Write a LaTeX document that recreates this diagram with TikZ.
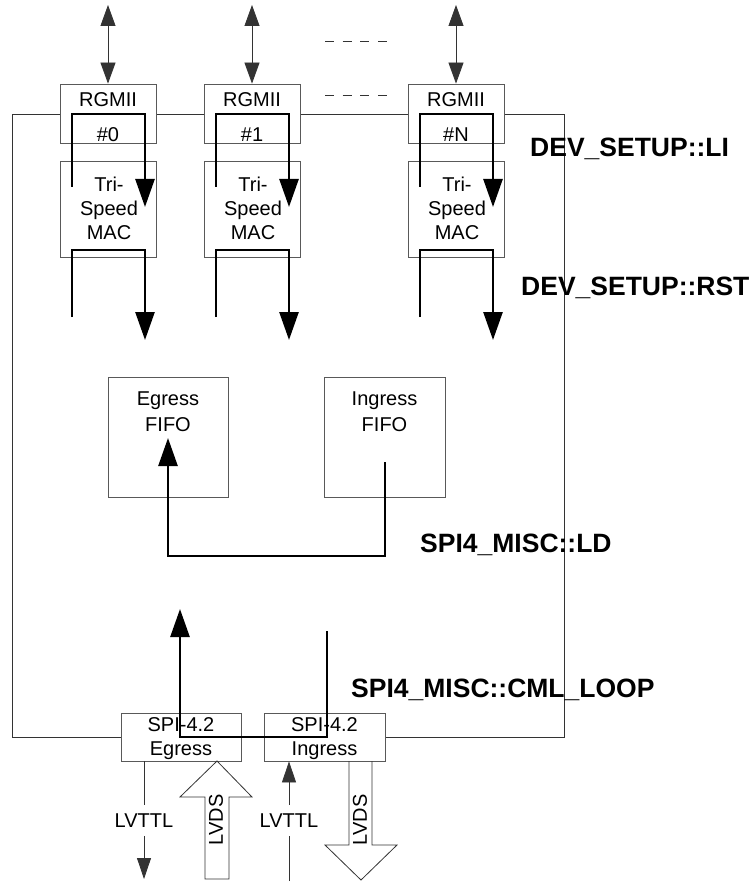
\documentclass[tikz,border=0pt]{standalone}
\usepackage{fontspec}
\setmainfont{Liberation Sans}
\usetikzlibrary{arrows.meta,calc}
\begin{document}
\begin{tikzpicture}[x=1pt,y=-1pt,
  box/.style={draw=black!65, line width=0.8pt, fill=white, inner sep=0pt},
  txt/.style={inner sep=0pt, font=\fontsize{20}{24}\selectfont, anchor=base},
  lvtxt/.style={inner xsep=0pt, inner ysep=8.3pt, font=\fontsize{20}{24}\selectfont},
  rtxt/.style={inner sep=0pt, font=\fontsize{20}{24}\selectfont, rotate=90},
  lbl/.style={inner sep=0pt, font=\fontsize{26.5}{30}\selectfont\bfseries, anchor=base west},
  thn/.style={draw=black!80, line width=0.8pt},
  thk/.style={draw=black, line width=2.6pt},
  bigtip/.style={-{Triangle[length=28pt,width=19pt]}},
  smalltip/.style={-{Triangle[length=21pt,width=14pt]}},
  dbl/.style={{Triangle[length=21pt,width=15pt]}-{Triangle[length=21pt,width=15pt]}},
]
\useasboundingbox (0,0) rectangle (752,882);

% chip outline
\node[thn, minimum width=552pt, minimum height=623pt, inner sep=0pt] (chip) at (288,425.5) {};

% register labels
\node[lbl] (li)  at (530,157) {DEV\_SETUP::LI};
\node[lbl] (rst) at (521,295) {DEV\_SETUP::RST};
\node[lbl] (ld)  at (420,552) {SPI4\_MISC::LD};
\node[lbl] (cml) at (351,697) {SPI4\_MISC::CML\_LOOP};

% port columns
\foreach \c/\n/\lab in {108/0/\#0, 252/1/\#1, 456/N/\#N}{
  \node[box, minimum width=96pt, minimum height=59pt] (rg\n) at (\c,113.5) {};
  \node[txt] (rgt\n) at (\c,107) {RGMII};
  \node[txt] (rgn\n) at (\c,142) {\lab};
  \node[box, minimum width=96pt, minimum height=96pt] (mac\n) at (\c,209) {};
  \node[txt] (ma\n) at (\c+1,192) {Tri-};
  \node[txt] (mb\n) at (\c+1,216) {Speed};
  \node[txt] (mc\n) at (\c+1,240) {MAC};
  \coordinate (top\n) at (\c,5);
  \draw[thn, dbl] (top\n) -- (rg\n.north);
  \draw[thk, bigtip] (\c-36,187) -- (\c-36,114) -- (\c+37,114) -- (\c+37,207);
  \draw[thk, bigtip] (\c-36,317) -- (\c-36,250) -- (\c+37,250) -- (\c+37,340);
}

% dashed continuation marks
\coordinate (d1a) at (325,41.5);  \coordinate (d1b) at (388,41.5);
\coordinate (d2a) at (325,95.7);  \coordinate (d2b) at (388,95.7);
\draw[thn, dash pattern=on 9pt off 8.7pt] (d1a) -- (d1b);
\draw[thn, dash pattern=on 9pt off 8.7pt] (d2a) -- (d2b);

% FIFOs
\node[box, minimum width=120pt, minimum height=120pt] (efifo) at (168,437) {};
\node[txt] (efa) at (168,405) {Egress};
\node[txt] (efb) at (168,431) {FIFO};
\node[box, minimum width=121pt, minimum height=120pt] (ififo) at (384.5,437) {};
\node[txt] (ifa) at (384.5,405) {Ingress};
\node[txt] (ifb) at (384.5,431) {FIFO};

% SPI-4.2 blocks
\node[box, minimum width=120pt, minimum height=48pt] (spie) at (181,737) {};
\node[txt] (sea) at (181,731) {SPI-4.2};
\node[txt] (seb) at (181,755) {Egress};
\node[box, minimum width=121pt, minimum height=48pt] (spii) at (324.5,737) {};
\node[txt] (sia) at (324.5,731) {SPI-4.2};
\node[txt] (sib) at (324.5,755) {Ingress};

% loopbacks
\draw[thk, bigtip] (385,462) -- (385,556) -- (168,556) -- (168,438);
\draw[thk, bigtip] (327,631) -- (327,737) -- (180,737) -- (180,609);

% LVTTL lines
\node[lvtxt] (lv1) at (144,820.5) {LVTTL};
\coordinate (lv1end) at (144,879);
\draw[thn] (spie.south -| lv1) -- (lv1);
\draw[thn, smalltip] (lv1) -- (lv1end);
\node[lvtxt] (lv2) at (289,820.5) {LVTTL};
\coordinate (lv2end) at (289,881);
\draw[thn] (lv2end) -- (lv2);
\draw[thn, smalltip] (lv2) -- (spii.south -| lv2);

% LVDS hollow arrows
\draw[thn, fill=white] (205,879) -- (205,797) -- (180,797) -- (217,761) -- (252,797) -- (229,797) -- (229,879) -- cycle;
\node[rtxt] (lvds1) at (216,820) {LVDS};
\draw[thn] (349,761) -- (349,845) -- (325,845) -- (361,880) -- (397,845) -- (372,845) -- (372,761);
\node[rtxt] (lvds2) at (360,820) {LVDS};
\end{tikzpicture}
\end{document}
